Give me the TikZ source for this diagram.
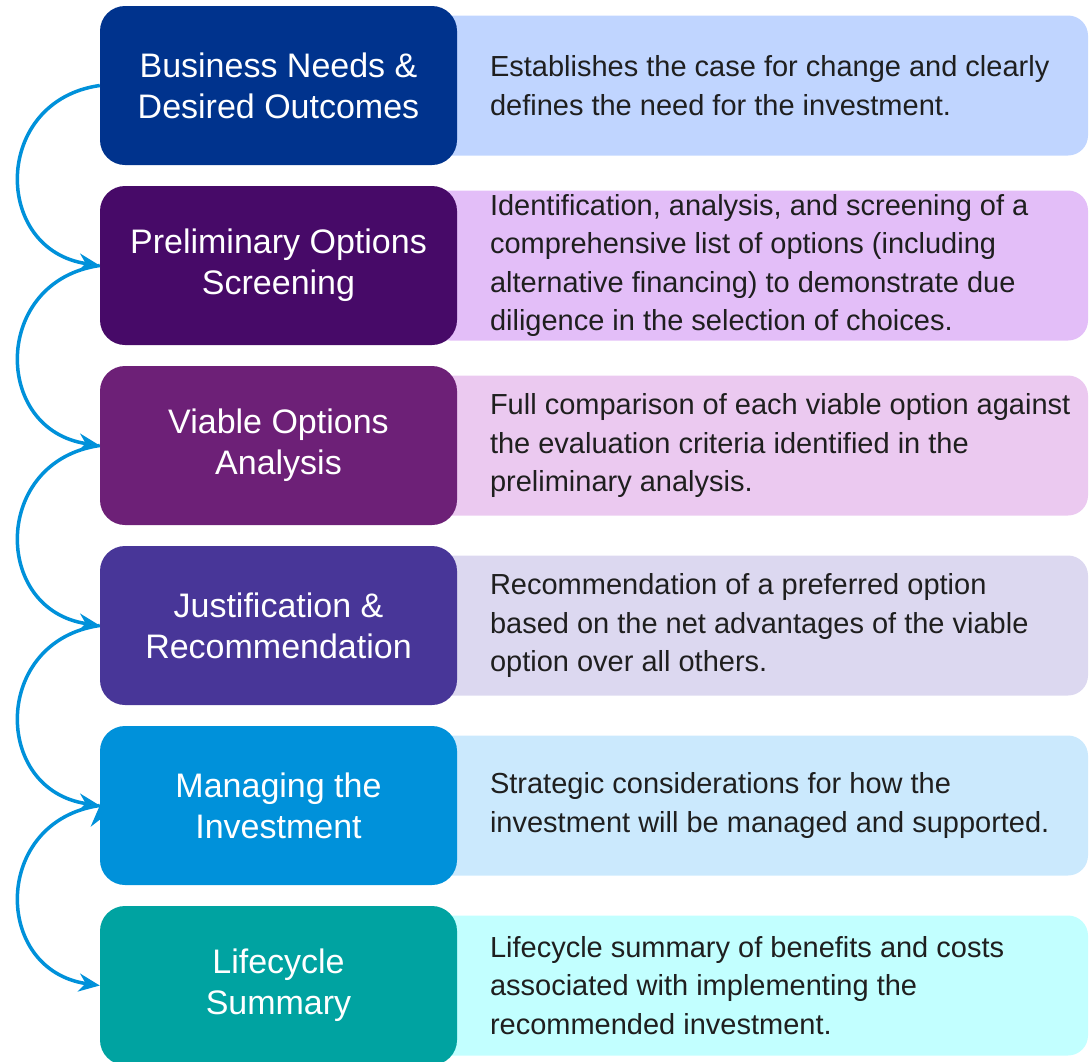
\documentclass[tikz,border=0pt]{standalone}
\usepackage{fontspec}
\setmainfont{Liberation Sans}
\usetikzlibrary{positioning,arrows.meta}

\definecolor{stageA}{HTML}{00338D}
\definecolor{stageB}{HTML}{470A68}
\definecolor{stageC}{HTML}{6D2077}
\definecolor{stageD}{HTML}{483698}
\definecolor{stageE}{HTML}{0091DA}
\definecolor{stageF}{HTML}{00A3A1}
\definecolor{infoA}{HTML}{C0D5FF}
\definecolor{infoB}{HTML}{E3BEF8}
\definecolor{infoC}{HTML}{EBC9F0}
\definecolor{infoD}{HTML}{DCD8F0}
\definecolor{infoE}{HTML}{CBE9FD}
\definecolor{infoF}{HTML}{C2FFFF}
\definecolor{flowblue}{HTML}{0091DA}

\begin{document}
\begin{tikzpicture}[x=1pt,y=1pt,node distance=180pt,on grid,
    stage/.style={rounded corners=25pt,minimum width=357pt,minimum height=159pt,
      inner sep=0pt,text=white,align=center,font=\fontsize{34}{41}\selectfont},
    info/.style={rounded corners=20pt,minimum width=658pt,minimum height=140pt,inner sep=0pt},
    infotext/.style={anchor=west,inner sep=0pt,align=left,text=black!88,
      font=\fontsize{29}{38.5}\selectfont},
    flow/.style={-{Stealth[length=21pt,width=18pt]},line width=3.5pt,draw=flowblue}]
      \useasboundingbox (0,0) rectangle (1089,-1061);

      \node[info,fill=infoA]                      (d1) at (759,-85.5) {};
      \node[info,fill=infoB,minimum height=150pt] (d2) [below=of d1] {};
      \node[info,fill=infoC]                      (d3) [below=of d2] {};
      \node[info,fill=infoD]                      (d4) [below=of d3] {};
      \node[info,fill=infoE]                      (d5) [below=of d4] {};
      \node[info,fill=infoF]                      (d6) [below=of d5] {};

      \node[stage,fill=stageA] (s1) [left=480.5pt of d1] {Business Needs \&\\Desired Outcomes};
      \node[stage,fill=stageB] (s2) [left=480.5pt of d2] {Preliminary Options\\Screening};
      \node[stage,fill=stageC] (s3) [left=480.5pt of d3] {Viable Options\\Analysis};
      \node[stage,fill=stageD] (s4) [left=480.5pt of d4] {Justification \&\\Recommendation};
      \node[stage,fill=stageE] (s5) [left=480.5pt of d5] {Managing the\\Investment};
      \node[stage,fill=stageF] (s6) [left=480.5pt of d6] {Lifecycle\\Summary};

      \node[infotext] (t1) at ([xshift=60pt]d1.west) {Establishes the case for change and clearly\\defines the need for the investment.};
      \node[infotext] (t2) at ([xshift=60pt]d2.west) {Identification, analysis, and screening of a\\comprehensive list of options (including\\alternative financing) to demonstrate due\\diligence in the selection of choices.};
      \node[infotext] (t3) at ([xshift=60pt]d3.west) {Full comparison of each viable option against\\the evaluation criteria identified in the\\preliminary analysis.};
      \node[infotext] (t4) at ([xshift=60pt]d4.west) {Recommendation of a preferred option\\based on the net advantages of the viable\\option over all others.};
      \node[infotext] (t5) at ([xshift=60pt]d5.west) {Strategic considerations for how the\\investment will be managed and supported.};
      \node[infotext] (t6) at ([xshift=60pt]d6.west) {Lifecycle summary of benefits and costs\\associated with implementing the\\recommended investment.};

      \path[flow] (s1.west) edge[out=188,in=172,looseness=1.55] (s2.west)
                  (s2.west) edge[out=188,in=172,looseness=1.55] (s3.west)
                  (s3.west) edge[out=188,in=172,looseness=1.55] (s4.west)
                  (s4.west) edge[out=188,in=172,looseness=1.55] (s5.west)
                  (s5.west) edge[out=188,in=172,looseness=1.55] (s6.west);
\end{tikzpicture}
\end{document}
